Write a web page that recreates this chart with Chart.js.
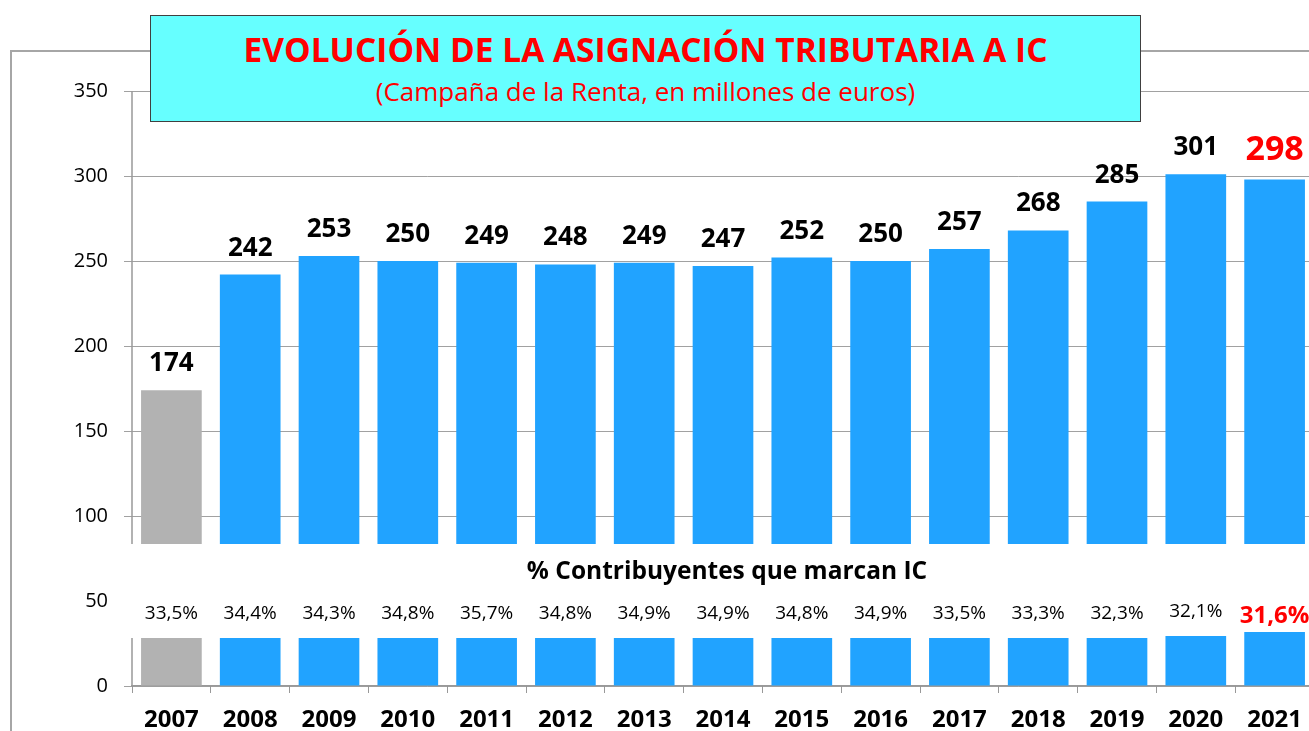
<!DOCTYPE html>
<html>
<head>
<meta charset="utf-8">
<script src="https://cdn.jsdelivr.net/npm/chart.js@4.4.0/dist/chart.umd.min.js"></script>
<style>
  html, body { margin: 0; padding: 0; background: #fff; overflow: hidden; }
  #wrap { position: relative; width: 1309px; height: 731px; overflow: hidden; }
  #frame { position: absolute; left: 10px; top: 50px; width: 1400px; height: 800px;
           border-left: 2px solid #a6a6a6; border-top: 2px solid #a6a6a6; }
  #chart { position: absolute; left: 0; top: 0; }
  #box { position: absolute; left: 150px; top: 15px; width: 989px; height: 105px;
         background: #66ffff; border: 1px solid #404040; color: #ff0000;
         font-family: 'Open Sans', sans-serif; text-align: center; }
  #box .t1 { position: absolute; left: 0; right: 0; top: 13px; font-size: 33.5px; line-height: 40px; font-weight: bold; }
  #box .t2 { position: absolute; left: 0; right: 0; top: 59px; font-size: 26px; line-height: 32px; }
</style>
</head>
<body>
<div id="wrap">
  <div id="frame"></div>
  <canvas id="chart" width="1320" height="731"></canvas>
  <div id="box">
    <div class="t1">EVOLUCIÓN DE LA ASIGNACIÓN TRIBUTARIA A IC</div>
    <div class="t2">(Campaña de la Renta, en millones de euros)</div>
  </div>
</div>
<script>
const years = ['2007','2008','2009','2010','2011','2012','2013','2014','2015','2016','2017','2018','2019','2020','2021'];
const amounts = [174, 242, 253, 250, 249, 248, 249, 247, 252, 250, 257, 268, 285, 301, 298];
const percents = [33.5, 34.4, 34.3, 34.8, 35.7, 34.8, 34.9, 34.9, 34.8, 34.9, 33.5, 33.3, 32.3, 32.1, 31.6];
// height of the small bars in the lower (broken) part
const pctBars = [28.2, 28.2, 28.2, 28.2, 28.2, 28.2, 28.2, 28.2, 28.2, 28.2, 28.2, 28.2, 28.2, 29.4, 31.8];
const amountBase = 83.5;   // upper bars start here (axis break)
const yMax = 350;
const yStep = 50;

const grey = '#b2b2b2';
const blue = '#21a3ff';
const barColors = years.map((y, i) => i === 0 ? grey : blue);
const fmtPct = v => v.toFixed(1).replace('.', ',') + '%';

const labelPlugin = {
    id: 'barLabels',
    afterDraw(chart) {
        const { ctx, chartArea, scales: { y } } = chart;
        const upper = chart.getDatasetMeta(0).data;
        const lower = chart.getDatasetMeta(1).data;
        ctx.save();
        // broken y axis line
        ctx.strokeStyle = '#999';
        ctx.lineWidth = 1.5;
        ctx.beginPath();
        ctx.moveTo(chartArea.left, y.getPixelForValue(yMax));
        ctx.lineTo(chartArea.left, y.getPixelForValue(amountBase));
        ctx.moveTo(chartArea.left, y.getPixelForValue(pctBars[0]));
        ctx.lineTo(chartArea.left, y.getPixelForValue(0));
        ctx.stroke();

        ctx.textAlign = 'center';
        ctx.textBaseline = 'alphabetic';
        const last = years.length - 1;
        upper.forEach((bar, i) => {
            ctx.fillStyle = i === last ? '#ff0000' : '#000';
            ctx.font = i === last ? 'bold 34px "Open Sans"' : 'bold 26px "Open Sans"';
            ctx.fillText(amounts[i], bar.x, bar.y - 19);
        });
        lower.forEach((bar, i) => {
            ctx.fillStyle = i === last ? '#ff0000' : '#000';
            ctx.font = i === last ? 'bold 24px "Open Sans"' : '19px "Open Sans"';
            ctx.fillText(fmtPct(percents[i]), bar.x, i === last ? bar.y - 9 : bar.y - 19);
        });
        ctx.fillStyle = '#000';
        ctx.font = 'bold 24.5px "Open Sans"';
        ctx.fillText('% Contribuyentes que marcan IC', (chartArea.left + chartArea.right) / 2 + 4, 579);
        ctx.restore();
    }
};

new Chart(document.getElementById('chart'), {
    type: 'bar',
    data: {
        labels: years,
        datasets: [{
            label: 'Asignación',
            data: amounts.map(v => [amountBase, v]),
            backgroundColor: barColors,
            grouped: false,
            barPercentage: 0.77,
            categoryPercentage: 1
        }, {
            label: '% Contribuyentes',
            data: pctBars.map(v => [0, v]),
            backgroundColor: barColors,
            grouped: false,
            barPercentage: 0.77,
            categoryPercentage: 1
        }]
    },
    options: {
        responsive: false,
        animation: false,
        layout: { padding: { top: 91, right: 6, bottom: 0, left: 0 } },
        plugins: { legend: { display: false }, tooltip: { enabled: false } },
        scales: {
            x: {
                afterFit: s => { s.height = 45; },
                grid: { offset: true, drawOnChartArea: false, tickLength: 7, color: '#999' },
                border: { display: true, color: '#999', width: 1.5 },
                ticks: { color: '#000', padding: 13, font: { family: 'Open Sans', size: 24, weight: 'bold' } }
            },
            y: {
                min: 0,
                max: yMax,
                z: 1,
                afterFit: s => { s.width = 132; },
                border: { display: false },
                grid: {
                    tickLength: 8,
                    color: c => (c.tick && c.tick.value === yStep) ? 'transparent' : 'rgba(110,110,110,0.65)'
                },
                ticks: { stepSize: yStep, color: '#000', padding: 16, font: { family: 'Open Sans', size: 20 } }
            }
        }
    },
    plugins: [labelPlugin]
});
</script>
</body>
</html>
